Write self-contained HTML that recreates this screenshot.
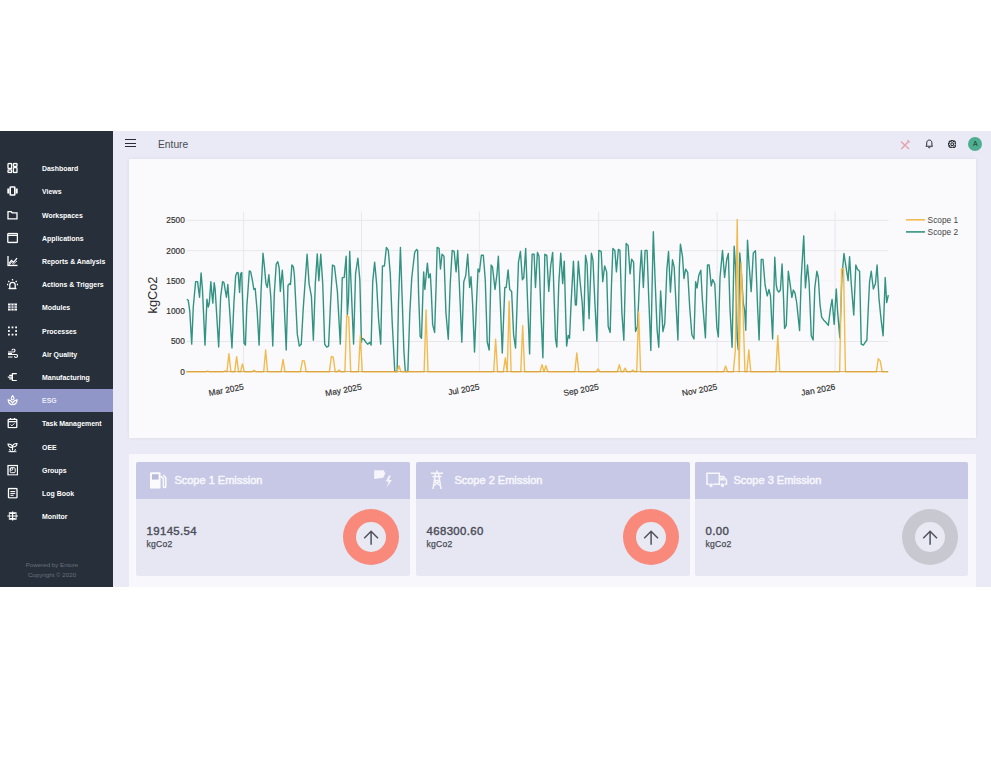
<!DOCTYPE html>
<html><head><meta charset="utf-8">
<style>
*{box-sizing:border-box;margin:0;padding:0}
html,body{width:991px;height:768px;background:#fff;overflow:hidden;font-family:"Liberation Sans",sans-serif}
#app{position:absolute;left:0;top:131px;width:991px;height:456px;background:#e9eaf5}
#side{position:absolute;left:0;top:0;width:113px;height:456px;background:#262f3a}
.mi{position:absolute;left:0;width:113px;height:23.2px;color:#fff;font-size:7.8px;font-weight:bold}
.mi span{position:absolute;left:42px;top:50%;transform:translateY(-50%) scaleX(.89);transform-origin:0 50%;white-space:nowrap}
.mi svg{position:absolute;left:7px;top:50%;transform:translateY(-50%)}
.mi.act{background:#9196c8;color:#e9eaf6}
.foot{position:absolute;left:0;width:104px;text-align:center;color:#6a727e;font-size:6.2px}
#top{position:absolute;left:113px;top:0;width:878px;height:26px;background:#e9eaf5}
#ham{position:absolute;left:11.5px;top:8.1px;width:11.5px}
#ham i{display:block;height:1.35px;background:#2a2c35;margin-bottom:2.1px}
#title{position:absolute;left:45.3px;top:7px;font-size:10.8px;color:#484a52;transform:scaleX(.95);transform-origin:0 0}
#chartcard{position:absolute;left:129px;top:28px;width:847px;height:279px;background:#fafafc;box-shadow:0 0 3px rgba(40,40,70,.08)}
#botcard{position:absolute;left:129px;top:323px;width:847px;height:133px;background:#f8f8fc}
.sc{position:absolute;top:330.7px;width:273.8px;height:114.3px;background:#e6e7f3;border-radius:2px}
.sch{position:absolute;left:0;top:0;width:100%;height:37.5px;background:#c7c8e6;color:#f7f7fd;font-size:11px;border-radius:2px 2px 0 0;-webkit-text-stroke:.5px #f7f7fd}
.sch span{position:absolute;left:38.4px;top:12.4px;white-space:nowrap}
.val{position:absolute;left:10.6px;top:63.7px;font-size:11.4px;letter-spacing:.35px;color:#4b4d57;-webkit-text-stroke:.4px #4b4d57}
.unit{position:absolute;left:10.6px;top:77px;font-size:8.6px;letter-spacing:.2px;color:#4b4d57;-webkit-text-stroke:.25px #4b4d57}
.ring{position:absolute;left:207.2px;top:47.3px;width:56px;height:56px;border-radius:50%;background:#f8897b}
.ring::after{content:"";position:absolute;left:12.7px;top:12.7px;width:30.6px;height:30.6px;border-radius:50%;background:#e9e9f3}
.ring svg{position:absolute;left:19px;top:19px;z-index:2}
</style></head><body>
<div id="app">
 <div id="side">
  <div class="mi" style="top:25.6px"><svg width="11" height="11" viewBox="0 0 11 11"><rect x="1" y="1" width="3.6" height="5" rx=".6" stroke="#fff" stroke-width="1.3" fill="none"/><rect x="6.4" y="1" width="3.6" height="2.8" rx=".6" stroke="#fff" stroke-width="1.3" fill="none"/><rect x="1" y="7.4" width="3.6" height="2.6" rx=".6" stroke="#fff" stroke-width="1.3" fill="none"/><rect x="6.4" y="5.2" width="3.6" height="4.8" rx=".6" stroke="#fff" stroke-width="1.3" fill="none"/></svg><span>Dashboard</span></div>
  <div class="mi" style="top:48.8px"><svg width="11" height="11" viewBox="0 0 11 11"><rect x="3.2" y="1.5" width="4.6" height="8" rx=".6" stroke="#fff" stroke-width="1.6" fill="none"/><rect x="0.3" y="3" width="2" height="5" fill="#fff"/><rect x="8.7" y="3" width="2" height="5" fill="#fff"/></svg><span>Views</span></div>
  <div class="mi" style="top:72.0px"><svg width="11" height="11" viewBox="0 0 11 11"><path d="M1 2.2h3.2l1 1.1H10v6H1z" stroke="#fff" stroke-width="1.3" fill="none"/></svg><span>Workspaces</span></div>
  <div class="mi" style="top:95.2px"><svg width="11" height="11" viewBox="0 0 11 11"><rect x="0.8" y="1" width="9.6" height="9" rx=".6" stroke="#fff" stroke-width="1.3" fill="none"/><path d="M0.8 2.8h9.6" stroke="#fff" stroke-width="1.3" fill="none"/></svg><span>Applications</span></div>
  <div class="mi" style="top:118.4px"><svg width="11" height="11" viewBox="0 0 11 11"><path d="M1 .5V10H10.5" stroke="#fff" stroke-width="1.3" fill="none"/><path d="M2 8l2.5-3 2 1.8 3.5-4.2" stroke="#fff" stroke-width="1.3" fill="none"/><path d="M2 9.5l2.5-2.5 2 1.5 3.5-3" stroke="#fff" stroke-width=".8" fill="none"/></svg><span>Reports &amp; Analysis</span></div>
  <div class="mi" style="top:141.6px"><svg width="11" height="11" viewBox="0 0 11 11"><path d="M2.8 10V6.5a2.7 2.7 0 0 1 5.4 0V10z" stroke="#fff" stroke-width="1.3" fill="none"/><path d="M1.5 10.2h8M5.5 .5v1.5M1.3 2.5l1 1M9.7 2.5l-1 1M0 6h1.2M9.8 6H11" stroke="#fff" stroke-width="1.3" fill="none"/></svg><span>Actions &amp; Triggers</span></div>
  <div class="mi" style="top:164.8px"><svg width="11" height="11" viewBox="0 0 11 11"><rect x="1" y="2" width="9" height="7" fill="#fff"/><path d="M1 4.4h9M1 6.7h9M4 2v7M7 2v7" stroke="#262f3a" stroke-width=".8"/></svg><span>Modules</span></div>
  <div class="mi" style="top:188.0px"><svg width="11" height="11" viewBox="0 0 11 11"><rect x="1" y="1" width="1.8" height="1.8" fill="#fff"/><rect x="1" y="4.6" width="1.8" height="1.8" fill="#fff"/><rect x="1" y="8.2" width="1.8" height="1.8" fill="#fff"/><rect x="4.6" y="1" width="1.8" height="1.8" fill="#fff"/><rect x="4.6" y="8.2" width="1.8" height="1.8" fill="#fff"/><rect x="8.2" y="1" width="1.8" height="1.8" fill="#fff"/><rect x="8.2" y="4.6" width="1.8" height="1.8" fill="#fff"/><rect x="8.2" y="8.2" width="1.8" height="1.8" fill="#fff"/></svg><span>Processes</span></div>
  <div class="mi" style="top:211.2px"><svg width="11" height="11" viewBox="0 0 11 11"><path d="M1 3.5h5.5a1.5 1.5 0 1 0-1.5-1.5M1 6h8a1.5 1.5 0 1 1-1.5 1.5M1 8.5h4.5" stroke="#fff" stroke-width="1.1" fill="none"/><path d="M1 5h4" stroke="#fff" stroke-width="1.1" fill="none"/></svg><span>Air Quality</span></div>
  <div class="mi" style="top:234.4px"><svg width="11" height="11" viewBox="0 0 11 11"><path d="M0.8 5.6h4.6M5.4 1.6v8M5.4 2.2h4.4M5.4 9h4.4M2.2 3.8h3.2M2.2 7.4h3.2" stroke="#fff" stroke-width="1.2" fill="none"/></svg><span>Manufacturing</span></div>
  <div class="mi act" style="top:257.6px"><svg width="11" height="11" viewBox="0 0 11 11"><path d="M1.2 5.4C1.4 8.6 3.1 10.3 5.6 10.3S9.8 8.6 10.1 5.4C8.2 5.7 6.6 6.8 5.6 8.3 4.6 6.8 3 5.7 1.2 5.4z" stroke="#fff" stroke-width="1.2" fill="none"/><path d="M5.6 1.2C4.6 2.5 4.2 3.2 4.2 3.9a1.4 1.4 0 0 0 2.8 0c0-.7-.4-1.4-1.4-2.7z" stroke="#fff" stroke-width="1.1" fill="none"/></svg><span>ESG</span></div>
  <div class="mi" style="top:280.8px"><svg width="11" height="11" viewBox="0 0 11 11"><rect x="1.2" y="1.8" width="8.6" height="8.4" rx=".8" stroke="#fff" stroke-width="1.3" fill="none"/><path d="M1.2 4.2h8.6M3.5 .6v2M7.5 .6v2" stroke="#fff" stroke-width="1.3" fill="none"/><path d="M3.6 7l1.3 1.3 2.5-2.5" stroke="#fff" stroke-width="1" fill="none"/></svg><span>Task Management</span></div>
  <div class="mi" style="top:304.0px"><svg width="11" height="11" viewBox="0 0 11 11"><path d="M5.5 9V5.5M1 2.5c2.5 0 4.5 1 4.5 3.5C3 6 1 5 1 2.5zM10 2c-2.5 0-4.5 1-4.5 3.5C8 5.5 10 4.5 10 2zM1.5 10.2h8" stroke="#fff" stroke-width="1.1" fill="none"/><path d="M2.5 7.5l1.2 2.7h3.6l1.2-2.7" stroke="#fff" stroke-width="1" fill="none"/></svg><span>OEE</span></div>
  <div class="mi" style="top:327.2px"><svg width="11" height="11" viewBox="0 0 11 11"><rect x="1" y="1" width="9.5" height="9.5" stroke="#fff" stroke-width="1.3" fill="none"/><rect x="3.2" y="3.2" width="5" height="5" rx="1" stroke="#fff" stroke-width="1" fill="none"/><circle cx="4.6" cy="4.6" r="1.2" stroke="#fff" stroke-width=".9" fill="none"/></svg><span>Groups</span></div>
  <div class="mi" style="top:350.4px"><svg width="11" height="11" viewBox="0 0 11 11"><rect x="1.5" y="1" width="8.5" height="9.5" rx=".8" stroke="#fff" stroke-width="1.3" fill="none"/><path d="M3.4 4h4.8M3.4 5.9h4.8M3.4 7.8h3.2" stroke="#fff" stroke-width="1" fill="none"/></svg><span>Log Book</span></div>
  <div class="mi" style="top:373.6px"><svg width="11" height="11" viewBox="0 0 11 11"><path d="M0.3 5.5h10.6M3 3h5.5M3 8h5.5M5.6 1v9" stroke="#fff" stroke-width="1.2" fill="none"/><rect x="2.3" y="2.2" width="6.8" height="6.6" stroke="#fff" stroke-width=".9" fill="none"/></svg><span>Monitor</span></div>
  <div class="foot" style="top:430px">Powered by Enture</div>
  <div class="foot" style="top:439.5px">Copyright &#169; 2020</div>
 </div>
 <div id="top">
  <div id="ham"><i></i><i></i><i></i></div>
  <div id="title">Enture</div>
  <svg style="position:absolute;left:786px;top:8px" width="12" height="12" viewBox="0 0 12 12"><path d="M2 2.5l8 7.5M2.3 10L10 2" stroke="#e2a4ae" stroke-width="1.4" fill="none"/><path d="M8.5 1.2l2.2 2.2" stroke="#e2a4ae" stroke-width="1.2"/></svg>
  <svg style="position:absolute;left:811.8px;top:8px" width="8.6" height="9.5" viewBox="0 0 10 11"><path d="M5 1.2c-1.9 0-3 1.4-3 3.2v2.8L1 8.4h8L8 7.2V4.4C8 2.6 6.9 1.2 5 1.2z" stroke="#1f2128" stroke-width="1.1" fill="none"/><path d="M4 9.3a1 1 0 0 0 2 0" stroke="#1f2128" stroke-width="1" fill="none"/></svg>
  <svg style="position:absolute;left:834.9px;top:9.1px" width="8.4" height="8.4" viewBox="0 0 10 10"><g fill="none" stroke="#1f2128" stroke-width="1.2" stroke-linejoin="round"><path d="M8.28 3.77 L9.61 4.07 L9.61 5.93 L8.28 6.23 L8.19 6.44 L8.92 7.60 L7.60 8.92 L6.44 8.19 L6.23 8.28 L5.93 9.61 L4.07 9.61 L3.77 8.28 L3.56 8.19 L2.40 8.92 L1.08 7.60 L1.81 6.44 L1.72 6.23 L0.39 5.93 L0.39 4.07 L1.72 3.77 L1.81 3.56 L1.08 2.40 L2.40 1.08 L3.56 1.81 L3.77 1.72 L4.07 0.39 L5.93 0.39 L6.23 1.72 L6.44 1.81 L7.60 1.08 L8.92 2.40 L8.19 3.56Z"/><circle cx="5" cy="5" r="1.6"/></g></svg>
  <div style="position:absolute;left:855.2px;top:5.5px;width:14px;height:14px;border-radius:50%;background:#4fad90;color:#17362e;font-size:6.8px;line-height:14px;text-align:center">A</div>
 </div>
 <div id="chartcard"></div>
 <div id="botcard"></div>
 <div class="sc" style="left:136px"><div class="sch"><svg style="position:absolute;left:13.5px;top:10px" width="17" height="17" viewBox="0 0 17 17"><rect x="0" y="0.2" width="10.5" height="16.4" rx="1.2" fill="#fbfbfe"/><rect x="1.9" y="2.2" width="6.7" height="5.4" fill="#b9bbd9"/><path d="M10.5 4.2l2.9 2.4v7.8a1.2 1.2 0 0 0 2.4 0V5.6L13.2 3" stroke="#fbfbfe" stroke-width="1.5" fill="none"/></svg><svg style="position:absolute;left:237.5px;top:8.8px" width="21" height="20" viewBox="0 0 21 20"><path d="M0.2 0.2h9.5l1.5 3-2 4.5L0.2 9z" fill="#f6f6fc"/><path d="M15 5.5l-3.2 6h3l-2.3 6.2 5.4-7.7h-3l2-4.5z" fill="#f6f6fc"/></svg><span>Scope 1 Emission</span></div><div class="val">19145.54</div><div class="unit">kgCo2</div><div class="ring"><svg width="56" height="56" viewBox="0 0 56 56" style="position:absolute;left:0;top:0;z-index:2"><path d="M28.1 22.2V35.8M21.2 29.2L28.1 22.3L35 29.2" stroke="#50535d" stroke-width="1.5" fill="none"/></svg></div></div>
 <div class="sc" style="left:416px"><div class="sch"><svg style="position:absolute;left:13.5px;top:8.5px" width="14" height="20" viewBox="0 0 14 20"><g stroke="#f6f6fc" stroke-width="1.5" fill="none"><path d="M7 0.5V3M1 3.2h12M2.5 6.5h9M5.5 3.2L3 19M8.5 3.2L11 19M4.2 11l5.6 4.5M9.8 11l-5.6 4.5M4 10.5h6"/></g></svg><span>Scope 2 Emission</span></div><div class="val">468300.60</div><div class="unit">kgCo2</div><div class="ring"><svg width="56" height="56" viewBox="0 0 56 56" style="position:absolute;left:0;top:0;z-index:2"><path d="M28.1 22.2V35.8M21.2 29.2L28.1 22.3L35 29.2" stroke="#50535d" stroke-width="1.5" fill="none"/></svg></div></div>
 <div class="sc" style="left:695px;width:273.4px"><div class="sch"><svg style="position:absolute;left:10.5px;top:10px" width="22" height="17" viewBox="0 0 22 17"><g stroke="#f6f6fc" stroke-width="1.5" fill="none"><path d="M1 1.2h12.3v11H1zM13.3 4.5h4.2l3 3.8v3.9h-7.2"/></g><circle cx="5" cy="13.2" r="2.2" fill="#f6f6fc" stroke="#c7c8e6" stroke-width=".8"/><circle cx="16.5" cy="13.2" r="2.2" fill="#f6f6fc" stroke="#c7c8e6" stroke-width=".8"/><path d="M14.2 8.5V5.6h2.8l2.2 2.9z" fill="#f6f6fc"/></svg><span>Scope 3 Emission</span></div><div class="val">0.00</div><div class="unit">kgCo2</div><div class="ring" style="background:#c8c8d0"><svg width="56" height="56" viewBox="0 0 56 56" style="position:absolute;left:0;top:0;z-index:2"><path d="M28.1 22.2V35.8M21.2 29.2L28.1 22.3L35 29.2" stroke="#50535d" stroke-width="1.5" fill="none"/></svg></div></div>
</div>
<!--CHART--><svg id="chart" width="991" height="768" viewBox="0 0 991 768" style="position:absolute;left:0;top:0">
<path d="M186.4 341.50H888.4 M186.4 250.60H888.4 M186.4 220.30H888.4 M243.6 211.5V371.8 M361.5 211.5V371.8 M479.3 211.5V371.8 M598.7 211.5V371.8 M717.2 211.5V371.8 M835.1 211.5V371.8" stroke="#e8e8ec" stroke-width="1" fill="none"/>
<path d="M186.4 311.20H888.4 M186.4 280.90H888.4" stroke="#f3f3f6" stroke-width="1" fill="none"/>
<text x="184.8" y="374.75" text-anchor="end" font-size="8.3" fill="#333" stroke="#333" stroke-width="0.18">0</text>
<text x="184.8" y="344.45" text-anchor="end" font-size="8.3" fill="#333" stroke="#333" stroke-width="0.18">500</text>
<text x="184.8" y="314.15" text-anchor="end" font-size="8.3" fill="#333" stroke="#333" stroke-width="0.18">1000</text>
<text x="184.8" y="283.85" text-anchor="end" font-size="8.3" fill="#333" stroke="#333" stroke-width="0.18">1500</text>
<text x="184.8" y="253.55" text-anchor="end" font-size="8.3" fill="#333" stroke="#333" stroke-width="0.18">2000</text>
<text x="184.8" y="223.25" text-anchor="end" font-size="8.3" fill="#333" stroke="#333" stroke-width="0.18">2500</text>
<text transform="translate(157.3 295) rotate(-90)" text-anchor="middle" font-size="12.8" fill="#2a2a2a">kgCo2</text>
<text transform="translate(244.1 389.5) rotate(-10.5)" text-anchor="end" font-size="8.4" fill="#333" stroke="#333" stroke-width="0.18">Mar 2025</text>
<text transform="translate(362.0 389.5) rotate(-10.5)" text-anchor="end" font-size="8.4" fill="#333" stroke="#333" stroke-width="0.18">May 2025</text>
<text transform="translate(479.8 389.5) rotate(-10.5)" text-anchor="end" font-size="8.4" fill="#333" stroke="#333" stroke-width="0.18">Jul 2025</text>
<text transform="translate(599.2 389.5) rotate(-10.5)" text-anchor="end" font-size="8.4" fill="#333" stroke="#333" stroke-width="0.18">Sep 2025</text>
<text transform="translate(717.7 389.5) rotate(-10.5)" text-anchor="end" font-size="8.4" fill="#333" stroke="#333" stroke-width="0.18">Nov 2025</text>
<text transform="translate(835.6 389.5) rotate(-10.5)" text-anchor="end" font-size="8.4" fill="#333" stroke="#333" stroke-width="0.18">Jan 2026</text>
<polyline points="186.84,299.22 188.20,300.20 189.77,310.94 191.72,344.14 193.28,307.03 195.62,281.64 197.58,281.64 199.53,297.27 201.09,272.85 202.46,289.45 205.00,345.12 206.95,299.22 208.32,307.03 209.30,303.12 210.86,281.64 211.84,293.36 212.81,303.12 214.18,282.62 215.16,289.45 218.67,347.07 220.62,297.27 222.58,281.64 223.95,282.62 226.48,297.27 227.85,284.57 229.80,312.89 231.95,348.05 233.91,303.12 235.66,275.78 237.03,272.46 238.20,272.85 239.57,292.38 240.55,273.83 241.72,272.46 242.89,308.98 244.06,343.16 245.43,345.12 246.80,307.03 249.34,270.90 250.70,271.88 252.27,279.69 253.83,289.45 255.20,288.48 257.15,310.94 259.10,345.12 261.05,291.41 263.01,253.32 264.38,266.02 265.94,283.59 267.30,287.50 268.87,274.80 270.82,297.27 272.77,346.09 274.30,293.36 276.25,264.06 277.81,261.72 279.18,267.97 280.35,291.41 281.33,279.69 282.30,270.31 283.28,283.59 286.21,350.00 287.97,285.55 289.53,283.59 290.51,284.57 291.88,265.04 293.44,266.99 294.41,275.78 297.34,334.38 299.30,346.09 301.25,344.14 303.20,308.98 307.11,254.30 309.06,283.59 311.41,296.29 313.36,340.23 315.31,283.59 317.27,253.91 318.83,280.66 320.78,254.30 322.73,283.59 324.69,344.14 326.64,347.07 328.59,346.09 330.55,303.12 332.50,265.04 334.45,266.02 337.38,291.41 340.31,344.14 342.27,277.73 344.22,277.34 346.17,256.25 347.34,314.84 348.52,299.22 349.69,251.37 351.05,283.59 353.59,344.14 355.55,273.83 357.89,258.20 359.84,279.69 361.41,342.19 361.95,338.28 363.91,339.26 365.86,342.19 367.81,344.14 369.77,342.19 371.13,345.12 372.70,281.64 374.65,262.11 376.60,283.59 378.55,318.75 380.70,344.14 382.46,266.02 384.41,266.02 386.37,247.46 388.32,250.39 390.27,273.83 392.23,322.66 394.77,371.48 397.11,371.48 398.48,303.12 400.43,247.46 401.99,293.36 403.95,351.95 405.31,371.48 407.85,371.48 409.80,312.89 411.76,277.73 414.69,252.34 416.64,249.41 417.62,250.39 418.59,293.36 420.16,336.33 421.52,338.28 422.89,293.36 423.67,271.88 424.84,289.45 427.38,263.09 428.75,277.73 430.31,273.83 431.29,291.41 432.66,324.61 434.61,332.42 436.17,283.59 437.15,247.46 439.10,248.44 440.47,268.95 442.03,254.30 443.98,256.25 445.94,312.89 448.28,339.26 450.23,283.59 452.19,250.39 454.14,251.37 456.09,271.88 457.66,251.37 457.73,250.39 459.30,283.59 461.84,342.19 463.79,281.64 465.74,275.78 467.70,254.30 469.65,287.50 471.02,276.76 472.58,303.12 474.53,351.95 476.48,303.12 478.05,268.95 479.41,271.88 481.37,255.27 483.32,255.27 485.27,279.69 487.23,342.19 489.18,350.00 491.13,265.04 492.50,266.99 495.04,289.45 496.99,273.83 498.36,256.25 500.31,303.12 502.27,352.93 504.80,287.50 506.17,287.50 508.12,269.92 509.69,289.45 511.64,291.41 513.59,334.38 515.55,348.05 517.11,303.12 518.48,262.11 520.43,251.37 522.38,279.69 523.75,277.73 525.70,248.44 527.27,293.36 529.61,353.91 531.17,283.59 532.15,254.30 534.10,254.30 535.47,287.50 537.42,252.34 538.98,256.25 540.94,312.89 542.89,357.81 544.84,254.30 546.80,255.27 548.75,291.41 550.70,266.02 552.66,252.34 554.30,303.12 555.47,338.28 556.84,347.07 558.79,283.59 560.74,253.32 562.70,283.59 564.26,261.13 565.62,312.89 566.60,346.09 568.16,335.35 569.53,338.28 571.09,303.12 573.44,261.13 575.39,305.08 576.37,305.08 578.32,261.13 580.27,283.59 582.23,303.12 583.59,330.47 585.55,255.27 587.11,264.06 589.06,318.75 591.41,253.32 592.97,260.16 594.92,303.12 596.88,341.21 598.83,250.39 601.17,251.37 602.73,281.64 604.69,266.02 606.64,271.88 608.20,326.56 610.16,332.42 611.52,283.59 612.89,248.44 614.84,250.39 616.41,271.88 618.36,249.41 619.92,250.39 621.88,312.89 623.83,340.23 626.17,243.55 628.12,245.51 630.08,273.83 631.64,259.18 633.59,262.11 635.55,331.45 637.50,326.56 639.84,273.83 641.41,250.39 643.36,287.50 645.12,250.39 647.07,250.39 648.75,298.33 650.83,350.42 652.29,277.50 653.33,231.67 655.00,277.50 657.08,329.58 658.75,347.29 660.62,291.04 661.67,308.75 662.92,331.67 664.79,323.33 666.88,269.17 668.54,251.46 670.42,292.08 672.50,259.79 674.17,267.08 676.25,308.75 677.92,340.00 679.38,267.08 680.42,244.17 682.50,256.67 683.96,278.54 685.62,269.17 687.71,272.29 689.79,308.75 691.88,334.79 693.96,338.96 695.62,281.67 697.08,287.92 698.75,275.42 700.83,270.21 702.29,298.33 705.42,337.92 707.50,265.00 709.17,265.00 711.25,285.83 712.71,279.58 714.79,283.75 716.88,327.50 718.33,336.88 720.00,277.50 722.50,250.42 724.58,277.50 726.67,259.79 728.33,253.54 730.00,308.75 732.08,347.29 734.17,246.25 735.47,265.85 737.19,338.89 738.26,349.63 739.76,252.96 741.48,274.45 743.20,302.37 744.70,310.97 745.78,330.30 747.50,240.08 749.00,263.71 751.15,291.63 753.30,252.96 755.45,250.82 757.59,306.67 759.10,339.97 761.25,259.41 762.96,259.41 765.11,285.19 767.26,295.93 768.98,289.48 770.48,295.93 772.63,338.89 774.78,257.26 776.28,285.19 777.29,290.00 778.75,292.08 780.42,290.00 782.08,263.96 783.54,298.33 784.58,328.54 786.25,325.42 788.33,271.25 789.79,281.67 791.88,297.29 793.33,290.00 795.00,293.12 796.67,302.50 799.58,330.62 801.25,277.50 803.75,235.83 805.42,287.92 807.50,265.00 809.17,283.75 811.25,335.83 813.12,340.00 814.79,287.92 816.88,271.25 818.33,277.50 820.00,304.58 821.67,317.08 823.75,320.21 825.83,322.29 828.33,325.42 830.42,308.75 832.08,299.38 834.17,324.38 836.25,288.96 837.71,312.92 839.79,337.92 841.88,277.50 843.96,253.54 846.04,267.08 848.12,280.62 849.58,256.67 851.25,283.75 853.75,315.00 855.83,265.00 857.50,269.17 859.58,271.25 861.25,344.17 863.33,345.21 866.88,340.00 868.54,302.50 869.58,281.67 871.25,271.25 873.33,288.96 875.42,283.75 877.08,265.00 878.96,298.33 881.04,319.17 883.12,335.83 885.21,277.50 886.67,302.50 888.33,295.21" fill="none" stroke="#329382" stroke-width="1.4" stroke-linejoin="round"/>
<polyline points="186.40,371.80 188.33,371.80 190.27,371.80 192.20,371.80 194.13,371.80 196.06,371.80 198.00,371.80 199.93,371.80 201.86,371.80 203.79,371.80 205.73,371.80 207.66,371.07 209.59,371.80 211.53,371.80 213.46,371.80 215.39,371.80 217.32,371.80 219.26,371.80 221.19,371.80 223.12,371.80 225.05,370.89 226.99,371.80 228.92,353.62 230.85,371.80 232.78,371.80 234.72,371.80 236.65,356.65 238.58,371.80 240.52,371.80 242.45,363.92 244.38,371.80 246.31,371.80 248.25,371.80 250.18,371.80 252.11,371.80 254.04,370.29 255.98,371.80 257.91,371.80 259.84,371.80 261.78,371.80 263.71,371.80 265.64,349.98 267.57,371.80 269.51,371.80 271.44,371.80 273.37,371.80 275.30,371.80 277.24,371.80 279.17,371.80 281.10,371.80 283.04,359.38 284.97,371.80 286.90,371.80 288.83,371.80 290.77,371.80 292.70,371.80 294.63,371.80 296.56,371.80 298.50,371.80 300.43,371.80 302.36,360.59 304.29,360.89 306.23,371.80 308.16,371.80 310.09,371.80 312.03,371.80 313.96,371.80 315.89,371.80 317.82,371.80 319.76,371.80 321.69,371.80 323.62,371.80 325.55,371.80 327.49,371.80 329.42,371.80 331.35,356.53 333.29,357.26 335.22,371.80 337.15,371.80 339.08,369.98 341.02,371.80 342.95,371.80 344.88,371.80 346.81,315.14 348.75,317.26 350.68,371.80 352.61,371.80 354.54,371.80 356.48,371.80 358.41,371.80 360.34,335.44 362.28,371.80 364.21,371.80 366.14,371.80 368.07,371.80 370.01,371.80 371.94,371.80 373.87,371.80 375.80,371.80 377.74,371.80 379.67,371.80 381.60,371.80 383.54,371.80 385.47,371.80 387.40,371.80 389.33,371.80 391.27,371.80 393.20,371.80 395.13,371.80 397.06,371.80 399.00,365.74 400.93,371.80 402.86,371.80 404.80,371.80 406.73,371.80 408.66,371.80 410.59,371.80 412.53,371.80 414.46,371.80 416.39,371.80 418.32,371.80 420.26,371.80 422.19,371.80 424.12,371.80 426.05,309.99 427.99,371.80 429.92,371.80 431.85,371.80 433.79,371.80 435.72,371.80 437.65,371.80 439.58,371.80 441.52,371.80 443.45,371.80 445.38,371.80 447.31,371.80 449.25,371.80 451.18,371.80 453.11,371.80 455.05,371.80 456.98,371.80 458.91,371.80 460.84,371.80 462.78,371.80 464.71,371.80 466.64,371.80 468.57,371.80 470.51,371.80 472.44,371.80 474.37,371.80 476.31,371.80 478.24,371.80 480.17,371.80 482.10,371.80 484.04,371.80 485.97,371.80 487.90,371.80 489.83,371.80 491.77,371.80 493.70,371.80 495.63,339.32 497.56,371.80 499.50,371.80 501.43,371.80 503.36,371.80 505.30,357.86 507.23,371.80 509.16,301.20 511.09,371.80 513.03,371.80 514.96,371.80 516.89,371.80 518.82,371.80 520.76,371.80 522.69,325.62 524.62,371.80 526.56,371.80 528.49,371.80 530.42,371.80 532.35,371.80 534.29,371.80 536.22,371.80 538.15,371.80 540.08,371.80 542.02,364.59 543.95,371.80 545.88,365.74 547.81,371.80 549.75,371.80 551.68,371.80 553.61,371.80 555.55,371.80 557.48,371.80 559.41,371.80 561.34,371.80 563.28,371.80 565.21,371.80 567.14,371.80 569.07,371.80 571.01,371.80 572.94,371.80 574.87,371.80 576.81,352.89 578.74,371.80 580.67,371.80 582.60,371.80 584.54,371.80 586.47,371.80 588.40,371.80 590.33,371.80 592.27,371.80 594.20,371.80 596.13,371.80 598.07,368.77 600.00,371.80 601.93,371.80 603.86,371.80 605.80,371.80 607.73,371.80 609.66,371.80 611.59,371.80 613.53,371.80 615.46,371.80 617.39,371.80 619.32,364.59 621.26,371.80 623.19,371.80 625.12,368.16 627.06,371.80 628.99,371.80 630.92,371.80 632.85,369.98 634.79,371.80 636.72,371.80 638.65,311.93 640.58,371.80 642.52,371.80 644.45,371.80 646.38,371.80 648.32,371.80 650.25,371.80 652.18,371.80 654.11,371.80 656.05,371.80 657.98,371.80 659.91,371.80 661.84,371.80 663.78,371.80 665.71,371.80 667.64,371.80 669.58,371.80 671.51,371.80 673.44,371.80 675.37,371.80 677.31,371.80 679.24,371.80 681.17,371.80 683.10,371.80 685.04,371.80 686.97,371.80 688.90,371.80 690.83,371.80 692.77,371.80 694.70,371.80 696.63,371.80 698.57,371.80 700.50,371.80 702.43,371.80 704.36,371.80 706.30,371.80 708.23,371.80 710.16,371.80 712.09,371.80 714.03,371.80 715.96,371.80 717.89,371.80 719.83,371.80 721.76,371.80 723.69,371.80 725.62,366.04 727.56,371.80 729.49,371.80 731.42,371.80 733.35,371.80 735.29,350.59 737.22,219.51 739.15,371.80 741.08,262.72 743.02,311.20 744.95,371.80 746.88,371.80 748.82,349.86 750.75,371.80 752.68,371.80 754.61,371.80 756.55,371.80 758.48,371.80 760.41,371.80 762.34,371.80 764.28,371.80 766.21,371.80 768.14,371.80 770.08,371.80 772.01,371.80 773.94,371.80 775.87,371.80 777.81,335.44 779.74,371.80 781.67,371.80 783.60,371.80 785.54,371.80 787.47,371.80 789.40,371.80 791.34,371.80 793.27,371.80 795.20,371.80 797.13,371.80 799.07,371.80 801.00,371.80 802.93,371.80 804.86,371.80 806.80,371.80 808.73,371.80 810.66,371.80 812.59,371.80 814.53,371.80 816.46,371.80 818.39,371.80 820.33,371.80 822.26,371.80 824.19,371.80 826.12,371.80 828.06,371.80 829.99,371.80 831.92,371.80 833.85,371.80 835.79,371.80 837.72,371.80 839.65,371.80 841.59,268.78 843.52,268.78 845.45,371.80 847.38,371.80 849.32,371.80 851.25,371.80 853.18,371.80 855.11,371.80 857.05,371.80 858.98,371.80 860.91,371.80 862.85,371.80 864.78,371.80 866.71,371.80 868.64,371.80 870.58,371.80 872.51,371.80 874.44,371.80 876.37,371.80 878.31,358.77 880.24,360.89 882.17,371.80 884.10,371.80 886.04,371.80 887.97,371.80" fill="none" stroke="#f2bb50" stroke-width="1.4" stroke-linejoin="round"/>
<path d="M186.4 371.6H888.4" stroke="#d3a043" stroke-width="0.9"/>
<path d="M906 219.8h19" stroke="#f2bb50" stroke-width="1.6"/><path d="M906 231.9h19" stroke="#329382" stroke-width="1.6"/>
<text x="927.6" y="222.7" font-size="8.3" fill="#444">Scope 1</text><text x="927.6" y="234.8" font-size="8.3" fill="#444">Scope 2</text>
</svg><!--/CHART-->
</body></html>
